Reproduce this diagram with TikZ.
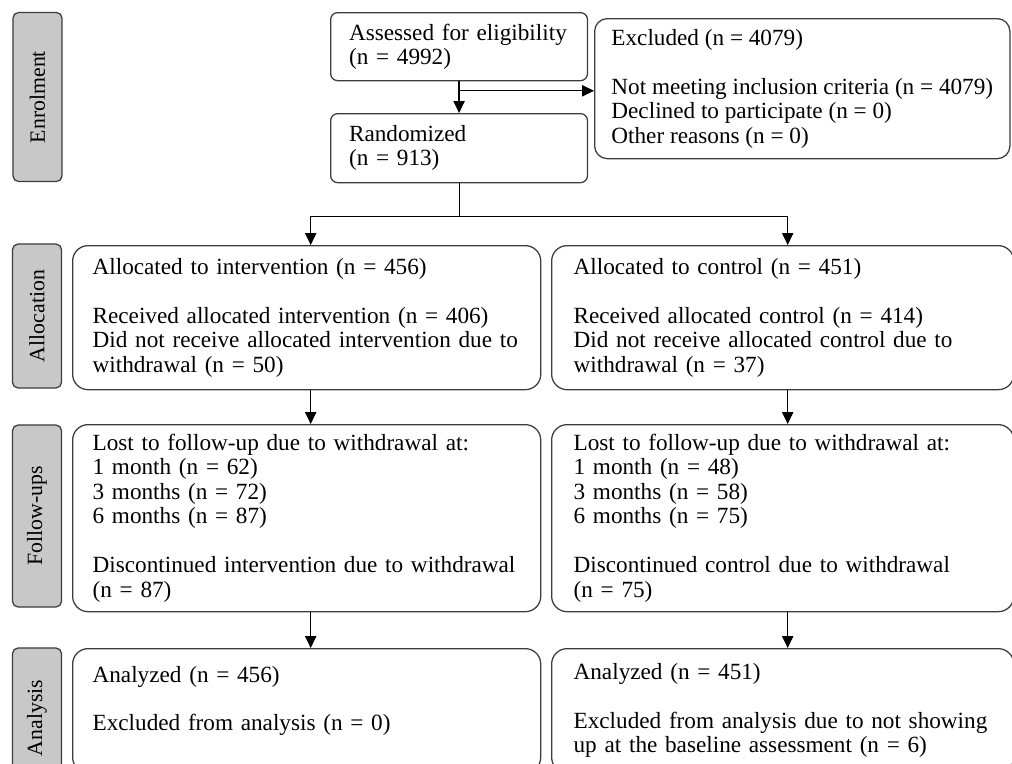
\documentclass[tikz,border=0pt]{standalone}
\usepackage{fontspec}
\setmainfont{Liberation Serif}
\usetikzlibrary{arrows.meta, positioning, calc}
\definecolor{phasegray}{RGB}{200,200,200}
\definecolor{edgegray}{RGB}{60,60,60}

\begin{document}
\begin{tikzpicture}[
			x=0.025cm, y=-0.025cm,
			phase/.style={rectangle, draw=edgegray, fill=phasegray, line width=0.9pt, rounded corners=4pt, rotate=90, minimum height=1.225cm, font=\fontsize{15.5}{17}\selectfont},
			stepbox/.style={rectangle, draw=edgegray, line width=0.9pt, rounded corners=5pt, align=left, anchor=north west, font=\fontsize{16.5}{17.4}\selectfont},
			flowbox/.style={stepbox, rounded corners=11pt},
			arrow/.style={-{Triangle[length=8.5pt, width=8pt]}, line width=0.9pt}
		]
		\useasboundingbox (0,0) rectangle (1012,763);
		% phase labels on the left
		\node[phase, minimum width=4.225cm] (enrol) at (37.5,97) {Enrolment};
		\node[phase, minimum width=3.6cm] (alloc) at (37,316) {Allocation};
		\node[phase, minimum width=4.55cm] (follow) at (37,516) {Follow-ups};
		\node[phase, minimum width=3.5cm] (analysis) at (37,718) {Analysis};
		
		% enrolment
		\node[stepbox, text width=5.5cm, inner xsep=0.46cm, minimum height=1.7cm] (assess) at (330,12) {Assessed for eligibility\\(n = 4992)};
		\node[stepbox, text width=5.5cm, inner xsep=0.46cm, minimum height=1.725cm] (random) at (330,113) {Randomized\\(n = 913)};
		\node[flowbox, rounded corners=9pt, inner xsep=0.42cm, minimum height=3.5cm] (excl) at (594,18) {Excluded (n = 4079)\\[17.4pt]Not meeting inclusion criteria (n = 4079)\\Declined to participate (n = 0)\\Other reasons (n = 0)};
		
		% two arms
		\node[flowbox, text width=10.7cm, inner xsep=0.5cm, minimum height=3.6cm] (allocI) at (72,245) {Allocated to intervention (n = 456)\\[17.4pt]Received allocated intervention (n = 406)\\Did not receive allocated intervention due to\\withdrawal (n = 50)};
		\node[flowbox, text width=10.45cm, inner xsep=0.55cm, minimum height=3.6cm] (allocC) at (551,245) {Allocated to control (n = 451)\\[17.4pt]Received allocated control (n = 414)\\Did not receive allocated control due to\\withdrawal (n = 37)};
		\node[flowbox, text width=10.7cm, inner xsep=0.5cm, minimum height=4.675cm] (followI) at (72,424) {Lost to follow-up due to withdrawal at:\\1 month (n = 62)\\3 months (n = 72)\\6 months (n = 87)\\[17.4pt]Discontinued intervention due to withdrawal\\(n = 87)};
		\node[flowbox, text width=10.45cm, inner xsep=0.55cm, minimum height=4.675cm] (followC) at (551,424) {Lost to follow-up due to withdrawal at:\\1 month (n = 48)\\3 months (n = 58)\\6 months (n = 75)\\[17.4pt]Discontinued control due to withdrawal\\(n = 75)};
		\node[flowbox, text width=10.7cm, inner xsep=0.5cm, minimum height=3.1cm] (anaI) at (72,648) {Analyzed (n = 456)\\[17.4pt]Excluded from analysis (n = 0)\\\mbox{}};
		\node[flowbox, text width=10.45cm, inner xsep=0.55cm, minimum height=3.1cm] (anaC) at (551,648) {Analyzed (n = 451)\\[17.4pt]Excluded from analysis due to not showing\\up at the baseline assessment (n = 6)};
		
		\coordinate (split) at ($(assess.south)!0.3!(random.north)$);
		\coordinate (fork) at ($(random.south)+(0,33)$);
		
		\draw[arrow] (assess) -- (random);
		\draw[arrow] (split) -- (split -| excl.west);
		\draw (random) -- (fork);
		\draw[arrow] (fork) -| ([xshift=0.1cm]allocI.north);
		\draw[arrow] (fork) -| ([xshift=0.125cm]allocC.north);
		\draw[arrow] ([xshift=0.1cm]allocI.south) -- ([xshift=0.1cm]followI.north);
		\draw[arrow] ([xshift=0.125cm]allocC.south) -- ([xshift=0.125cm]followC.north);
		\draw[arrow] ([xshift=0.1cm]followI.south) -- ([xshift=0.1cm]anaI.north);
		\draw[arrow] ([xshift=0.125cm]followC.south) -- ([xshift=0.125cm]anaC.north);
		\end{tikzpicture}
\end{document}
